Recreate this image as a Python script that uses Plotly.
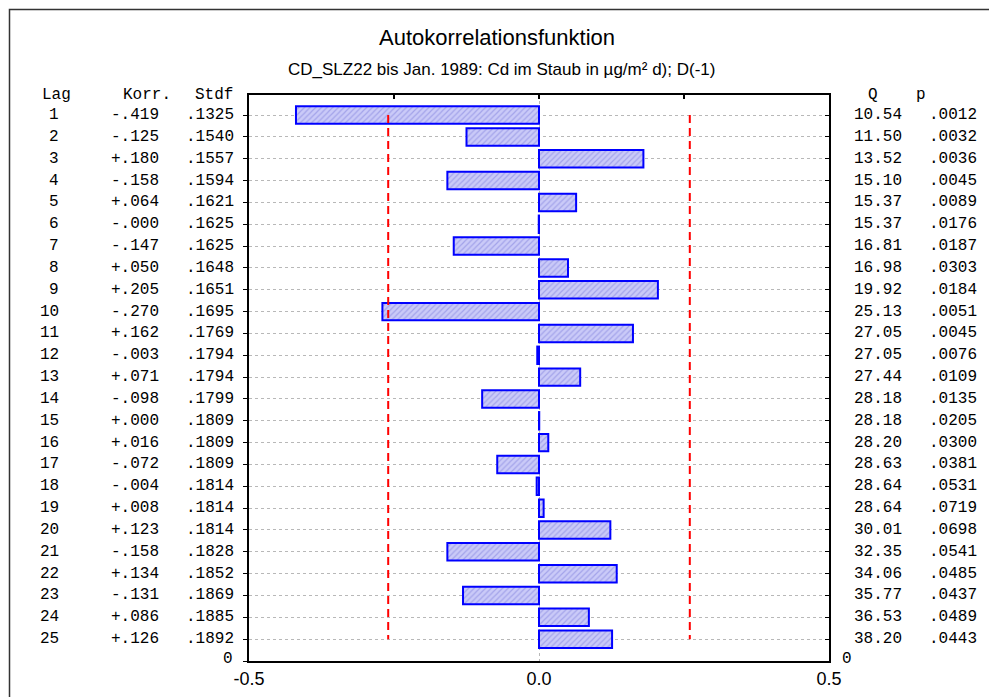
import plotly.graph_objects as go

# ---------------- data ----------------
lags = list(range(1, 26))
korr = [-0.419, -0.125, 0.180, -0.158, 0.064, -0.0004, -0.147, 0.050, 0.205, -0.270,
        0.162, -0.003, 0.071, -0.098, 0.0004, 0.016, -0.072, -0.004, 0.008, 0.123,
        -0.158, 0.134, -0.131, 0.086, 0.126]
stdf = [0.1325, 0.1540, 0.1557, 0.1594, 0.1621, 0.1625, 0.1625, 0.1648, 0.1651, 0.1695,
        0.1769, 0.1794, 0.1794, 0.1799, 0.1809, 0.1809, 0.1809, 0.1814, 0.1814, 0.1814,
        0.1828, 0.1852, 0.1869, 0.1885, 0.1892]
q_stat = [10.54, 11.50, 13.52, 15.10, 15.37, 15.37, 16.81, 16.98, 19.92, 25.13,
          27.05, 27.05, 27.44, 28.18, 28.18, 28.20, 28.63, 28.64, 28.64, 30.01,
          32.35, 34.06, 35.77, 36.53, 38.20]
p_val = [0.0012, 0.0032, 0.0036, 0.0045, 0.0089, 0.0176, 0.0187, 0.0303, 0.0184, 0.0051,
         0.0045, 0.0076, 0.0109, 0.0135, 0.0205, 0.0300, 0.0381, 0.0531, 0.0719, 0.0698,
         0.0541, 0.0485, 0.0437, 0.0489, 0.0443]
conf_limit = 0.26
x_ticks = [-0.5, 0.0, 0.5]
x_ticklabels = ["-0.5", "0.0", "0.5"]
title_text = "Autokorrelationsfunktion"
subtitle_text = "CD_SLZ22 bis Jan. 1989: Cd im Staub in µg/m² d); D(-1)"

# ---------------- helpers ----------------
W, H = 989, 697
L, R, T, B = 249, 829, 95, 661          # plot area in pixels
Y_TOP, Y_BOT = 0.08, 26.0               # y data range (reversed)


def px_x(px):
    return (px - L) / (R - L)


def px_y(py):
    return (B - py) / (B - T)


def fmt_signed(v):
    s = f"{v:+.3f}"
    return s.replace("0.", ".", 1)


def fmt_frac(v):
    return f"{v:.4f}".replace("0.", ".", 1)


mono = "Liberation Mono, Courier New, monospace"
sans = "Liberation Sans, Arial, sans-serif"

fig = go.Figure()

fig.add_trace(go.Bar(
    x=korr, y=lags, orientation="h", width=0.8,
    marker=dict(
        color="#c8c8f8",
        line=dict(color="#0000ff", width=2),
        pattern=dict(shape="/", fillmode="replace", bgcolor="#cacaf8",
                     fgcolor="#a4a4ea", size=4, solidity=0.3),
    ),
    hoverinfo="x+y", showlegend=False,
))

for sgn in (-1, 1):
    fig.add_trace(go.Scatter(
        x=[sgn * conf_limit, sgn * conf_limit], y=[lags[0], lags[-1]],
        mode="lines", line=dict(color="#ff0000", width=2, dash="8px,5px"),
        showlegend=False, hoverinfo="skip",
    ))

# invisible trace to drive second axes (top / right ticks)
fig.add_trace(go.Scatter(x=[None], y=[None], yaxis="y2", xaxis="x2",
                         showlegend=False, hoverinfo="skip"))

ann = []
fs = 16
HDR_Y = 0.1
# headers
ann.append(dict(text="Lag", x=px_x(72), xanchor="right", y=HDR_Y))
ann.append(dict(text="Korr.", x=px_x(172), xanchor="right", y=HDR_Y))
ann.append(dict(text="Stdf", x=px_x(234), xanchor="right", y=HDR_Y))
ann.append(dict(text="Q", x=px_x(873), xanchor="center", y=HDR_Y))
ann.append(dict(text="p", x=px_x(921), xanchor="center", y=HDR_Y))
for i, lag in enumerate(lags):
    ann.append(dict(text=str(lag), x=px_x(60), xanchor="right", y=lag))
    ann.append(dict(text=fmt_signed(korr[i]), x=px_x(160), xanchor="right", y=lag))
    ann.append(dict(text=fmt_frac(stdf[i]), x=px_x(235), xanchor="right", y=lag))
    ann.append(dict(text=f"{q_stat[i]:.2f}", x=px_x(903), xanchor="right", y=lag))
    ann.append(dict(text=fmt_frac(p_val[i]), x=px_x(978), xanchor="right", y=lag))
ann.append(dict(text="0", x=px_x(234), xanchor="right", y=Y_BOT - 0.1))
ann.append(dict(text="0", x=px_x(841), xanchor="left", y=Y_BOT - 0.1))

annotations = []
for a in ann:
    a.update(xref="paper", yref="y", showarrow=False, yanchor="middle",
             font=dict(family=mono, size=fs, color="#000000"), borderpad=0)
    annotations.append(a)

annotations.append(dict(text=title_text, xref="paper", yref="paper",
                        x=px_x(497), y=px_y(38), showarrow=False,
                        xanchor="center", yanchor="middle",
                        font=dict(family=sans, size=22, color="#000000")))
annotations.append(dict(text=subtitle_text, xref="paper", yref="paper",
                        x=px_x(501), y=px_y(70), showarrow=False,
                        xanchor="center", yanchor="middle",
                        font=dict(family=sans, size=17, color="#000000")))

fig.update_layout(
    width=W, height=H,
    margin=dict(l=L, r=W - R, t=T, b=H - B, pad=0, autoexpand=False),
    paper_bgcolor="#ffffff", plot_bgcolor="#ffffff",
    bargap=0.2,
    xaxis=dict(range=[-0.5, 0.5], tickvals=x_ticks, ticktext=x_ticklabels,
               showgrid=True, gridcolor="#b8b8b8", griddash="dot", gridwidth=1,
               zeroline=False, showline=True, linecolor="#000000", linewidth=2,
               ticks="", tickfont=dict(family=sans, size=18, color="#000000"),
               fixedrange=True),
    xaxis2=dict(range=[-0.5, 0.5], overlaying="x", side="top",
                tickvals=[-0.25, 0.0, 0.25], ticks="inside", ticklen=4,
                tickwidth=2, tickcolor="#000000", showticklabels=False,
                showgrid=False, zeroline=False, showline=True,
                linecolor="#000000", linewidth=2),
    yaxis=dict(range=[Y_BOT, Y_TOP], tickvals=lags + [Y_BOT], showticklabels=False,
               ticks="outside", ticklen=4, tickwidth=1, tickcolor="#000000",
               showgrid=True, gridcolor="#b8b8b8", griddash="dot", gridwidth=1,
               zeroline=False, showline=True, linecolor="#000000", linewidth=2,
               fixedrange=True),
    yaxis2=dict(range=[Y_BOT, Y_TOP], overlaying="y", side="right",
                tickvals=lags, ticks="inside", ticklen=4, tickwidth=1,
                tickcolor="#000000", showticklabels=False, showgrid=False,
                zeroline=False, showline=True, linecolor="#000000", linewidth=2),
    annotations=annotations,
    shapes=[dict(type="rect", xref="paper", yref="paper",
                 x0=px_x(9.5), x1=px_x(1000), y0=px_y(9.5), y1=px_y(710),
                 line=dict(color="#333333", width=1.5), fillcolor="rgba(0,0,0,0)",
                 layer="below")],
)

fig.write_html("out.html", config={"displayModeBar": False},
               post_script="document.body.style.margin='0px';")
